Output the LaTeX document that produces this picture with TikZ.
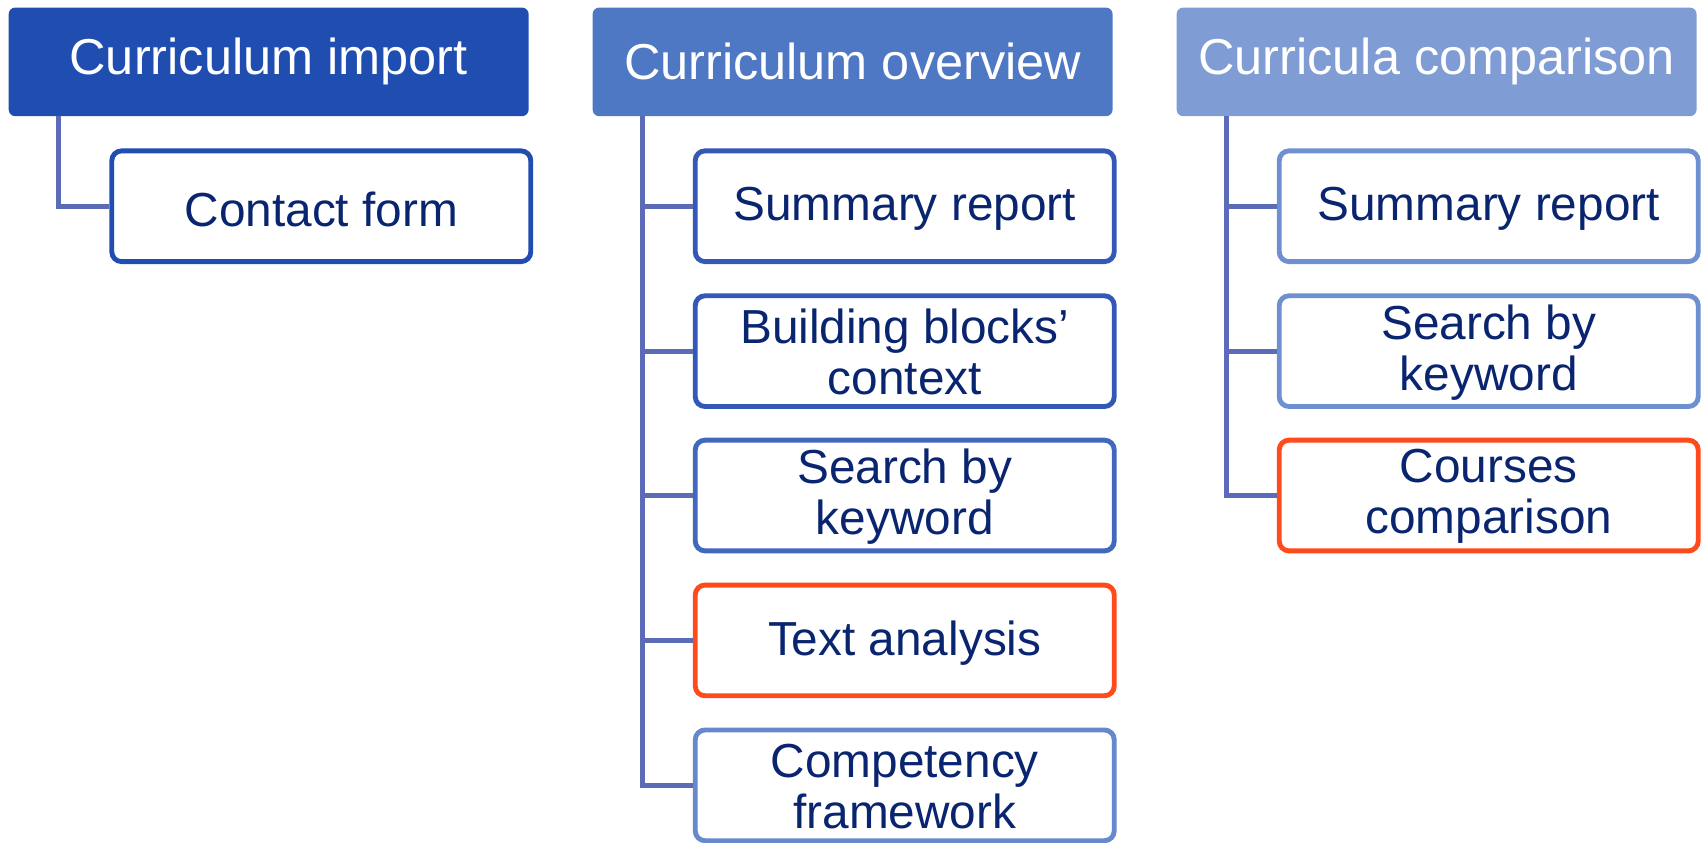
\documentclass[tikz,border=0pt]{standalone}
\usepackage{fontspec}
\setmainfont{Liberation Sans}
\usetikzlibrary{calc}
\definecolor{hdA}{RGB}{31,77,176}
\definecolor{hdB}{RGB}{79,120,196}
\definecolor{hdC}{RGB}{127,156,212}
\definecolor{bdA}{RGB}{31,77,176}
\definecolor{bdB}{RGB}{52,88,184}
\definecolor{bdC}{RGB}{66,104,190}
\definecolor{bdD}{RGB}{102,136,204}
\definecolor{bdE}{RGB}{110,143,208}
\definecolor{hot}{RGB}{255,74,28}
\definecolor{conncol}{RGB}{91,107,181}
\definecolor{txt}{RGB}{10,37,112}
\tikzset{
  x=1pt, y=-1pt,
  header/.style={fill=#1, draw=none, rounded corners=6pt, minimum width=479pt, minimum height=100pt,
    inner sep=0pt, text=white, font=\fontsize{46.5}{50}\selectfont, align=center},
  item/.style={draw=#1, line width=4.5pt, fill=white, rounded corners=9pt, minimum width=386pt, minimum height=102pt,
    inner sep=0pt, text=txt, font=\fontsize{44}{47}\selectfont, align=center},
  conn/.style={draw=conncol, line width=4.5pt},
  lbl/.style={inner sep=0pt, text=txt, font=\fontsize{44}{47}\selectfont, align=center}
}
\begin{document}
\begin{tikzpicture}
\useasboundingbox (0,0) rectangle (1568,776);
% headers
\node[header=hdA] (h1) at (247.5,57) {\raisebox{-1pt}{Curriculum import}};
\node[header=hdB] (h2) at (785.5,57) {\raisebox{-1pt}{Curriculum overview}};
\node[header=hdC] (h3) at (1323.5,57) {\raisebox{-1pt}{Curricula comparison}};
% spines
\coordinate (s1) at ($(h1.south west)+(46,0)$);
\coordinate (s2) at ($(h2.south west)+(46,0)$);
\coordinate (s3) at ($(h3.south west)+(46,0)$);
% column 1
\node[item=bdA] (c11) at (296,190) {};
% column 2
\node[item=bdB] (c21) at (833.5,190) {};
\node[item=bdB] (c22) at (833.5,323.5) {};
\node[item=bdC] (c23) at (833.5,456.5) {};
\node[item=hot] (c24) at (833.5,590) {};
\node[item=bdD] (c25) at (833.5,723.5) {};
% column 3
\node[item=bdE] (c31) at (1371.5,190) {};
\node[item=bdE] (c32) at (1371.5,323.5) {};
\node[item=hot] (c33) at (1371.5,456.5) {};
% labels
\node[lbl] (t11) at ($(c11)+(0,2.5)$) {Contact form};
\node[lbl] (t21) at ($(c21)+(0,2.5)$) {Summary report};
\node[lbl] (t22) at ($(c22)+(0,1)$) {Building blocks’\\context};
\node[lbl] (t23) at ($(c23)+(0,1)$) {Search by\\keyword};
\node[lbl] (t24) at ($(c24)+(0,2.5)$) {Text analysis};
\node[lbl] (t25) at ($(c25)+(0,1)$) {Competency\\framework};
\node[lbl] (t31) at ($(c31)+(0,2.5)$) {Summary report};
\node[lbl] (t32) at ($(c32)+(0,1)$) {Search by\\keyword};
\node[lbl] (t33) at ($(c33)+(0,1)$) {Courses\\comparison};
% connectors
\draw[conn] (s1) |- (c11.west);
\draw[conn] (s2) |- (c25.west);
\draw[conn] (c21.west) -- (c21.west -| s2);
\draw[conn] (c22.west) -- (c22.west -| s2);
\draw[conn] (c23.west) -- (c23.west -| s2);
\draw[conn] (c24.west) -- (c24.west -| s2);
\draw[conn] (s3) |- (c33.west);
\draw[conn] (c31.west) -- (c31.west -| s3);
\draw[conn] (c32.west) -- (c32.west -| s3);
\end{tikzpicture}
\end{document}
